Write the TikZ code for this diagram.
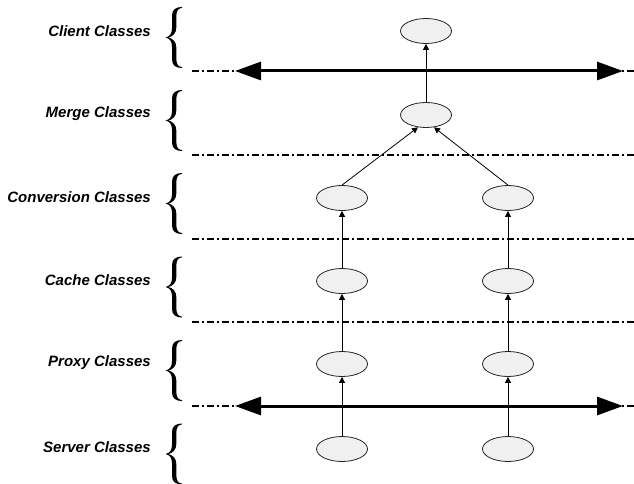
\documentclass[tikz,border=0pt]{standalone}
\usepackage{fontspec}
\setmainfont{Liberation Sans}
\usetikzlibrary{arrows.meta,shapes.geometric}
\definecolor{ellfill}{HTML}{F0F0F0}
\tikzset{
  bracepic/.pic={
    \fill (0,0) .. controls (4.5,-1) and (6.5,-4) .. (6.5,-9.5) -- (6.5,-22)
      .. controls (6.5,-28) and (10.5,-30.5) .. (16.5,-30.5) -- (16.5,-29.6)
      .. controls (12.5,-29.3) and (10.8,-26.5) .. (10.8,-21) -- (10.8,-10)
      .. controls (10.8,-4.5) and (7.5,-1.2) .. (3,0)
      .. controls (7.5,1.2) and (10.8,4.5) .. (10.8,10) -- (10.8,21)
      .. controls (10.8,26.5) and (12.5,29.3) .. (16.5,29.6) -- (16.5,30.5)
      .. controls (10.5,30.5) and (6.5,28) .. (6.5,22) -- (6.5,9.5)
      .. controls (6.5,4) and (4.5,1) .. (0,0) -- cycle;
  }
}
\begin{document}
\begin{tikzpicture}[x=1pt,y=-1pt,
  cls/.style={ellipse,draw=black!85,fill=ellfill,line width=0.8pt,minimum width=51pt,minimum height=25pt,inner sep=0pt},
  lbl/.style={anchor=east,inner sep=0pt,font=\fontsize{15}{17}\selectfont\bfseries\itshape},
  sep/.style={line width=1.3pt,dash pattern=on 7pt off 3pt on 2pt off 3pt},
  bus/.style={line width=3pt,{Triangle[length=26pt,width=18pt]}-{Triangle[length=26pt,width=18pt]}},
  link/.style={line width=0.8pt,-{Triangle[length=6pt,width=6pt]}}]
\useasboundingbox (0,0) rectangle (634,484);
% labels
\node[lbl] (l1) at (151,31) {Client Classes};
\node[lbl] (l2) at (151,114) {Merge Classes};
\node[lbl] (l3) at (151,197) {Conversion Classes};
\node[lbl] (l4) at (151,280) {Cache Classes};
\node[lbl] (l5) at (151,363) {Proxy Classes};
\node[lbl] (l6) at (151,447) {Server Classes};
% braces
\foreach \yy in {37.5,120.5,203.5,287,370.5,454}{
  \pic at (165.5,\yy) {bracepic};
}
% separators
\coordinate (s1a) at (192,71);  \coordinate (s1b) at (634,71);
\coordinate (s2a) at (192,155); \coordinate (s2b) at (634,155);
\coordinate (s3a) at (192,239); \coordinate (s3b) at (634,239);
\coordinate (s4a) at (192,322); \coordinate (s4b) at (634,322);
\coordinate (s5a) at (192,406); \coordinate (s5b) at (634,406);
\foreach \i in {1,...,5}{\draw[sep] (s\i a) -- (s\i b);}
\coordinate (t1a) at (235,71);  \coordinate (t1b) at (623,71);
\coordinate (t5a) at (235,406); \coordinate (t5b) at (623,406);
\draw[bus] (t1a) -- (t1b);
\draw[bus] (t5a) -- (t5b);
% class nodes
\node[cls] (cl) at (426,31) {};
\node[cls] (mg) at (426,115) {};
\node[cls] (cv1) at (342,198) {};
\node[cls] (cv2) at (508,198) {};
\node[cls] (ca1) at (342,281) {};
\node[cls] (ca2) at (508,281) {};
\node[cls] (px1) at (342,364) {};
\node[cls] (px2) at (508,364) {};
\node[cls] (sv1) at (342,449) {};
\node[cls] (sv2) at (508,449) {};
% links
\draw[link] (mg.north) -- (cl.south);
\draw[link] (cv1.north) -- (mg.237);
\draw[link] (cv2.north) -- (mg.303);
\draw[link] (ca1.north) -- (cv1.south);
\draw[link] (ca2.north) -- (cv2.south);
\draw[link] (px1.north) -- (ca1.south);
\draw[link] (px2.north) -- (ca2.south);
\draw[link] (sv1.north) -- (px1.south);
\draw[link] (sv2.north) -- (px2.south);
\end{tikzpicture}
\end{document}
